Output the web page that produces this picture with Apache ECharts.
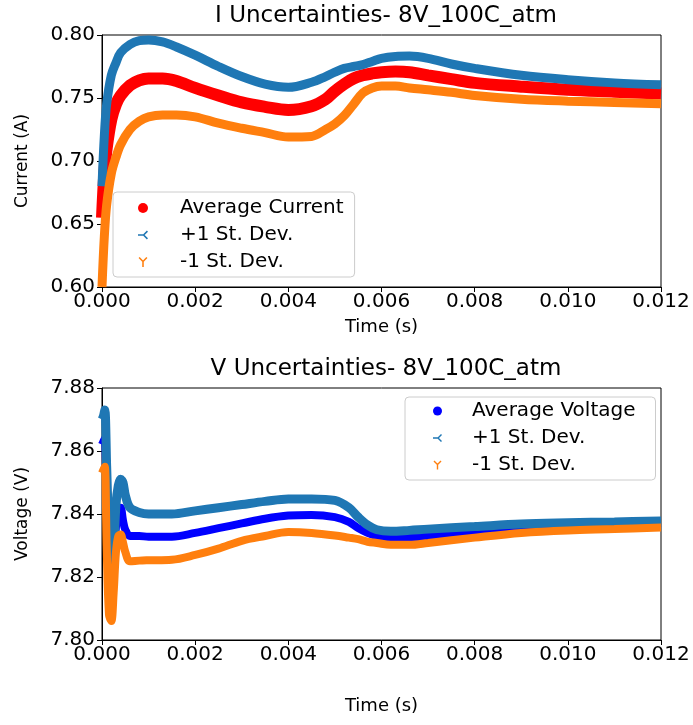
<!DOCTYPE html>
<html>
<head>
<meta charset="utf-8">
<script src="https://cdn.jsdelivr.net/npm/echarts@6/dist/echarts.min.js"></script>
<style>
  html, body { margin: 0; padding: 0; background: #fff; }
  #graphContainer { width: 693px; height: 725px; }
</style>
</head>
<body>
<div id="graphContainer"></div>
<script>
// time axis (s) for the current plot
var tCurrent = [0, 0.00005, 0.0001, 0.0002, 0.0003, 0.0004, 0.0006, 0.0008, 0.001, 0.0013, 0.0016, 0.002,
	0.0025, 0.003, 0.0035, 0.004, 0.0045, 0.0048, 0.005, 0.0052, 0.0054, 0.0056, 0.0058, 0.006, 0.0063,
	0.0066, 0.007, 0.0075, 0.008, 0.009, 0.010, 0.011, 0.012];
var currentAvg = [0.655, 0.690, 0.710, 0.733, 0.745, 0.752, 0.760, 0.764, 0.7655, 0.7655, 0.7635, 0.758,
	0.752, 0.7465, 0.743, 0.7405, 0.7435, 0.749, 0.7555, 0.761, 0.7655, 0.768, 0.7695, 0.7705, 0.771,
	0.7705, 0.768, 0.765, 0.762, 0.759, 0.7565, 0.755, 0.7535];
var currentPlus = [0.680, 0.720, 0.745, 0.768, 0.778, 0.786, 0.7925, 0.7955, 0.796, 0.7945, 0.7905, 0.784,
	0.775, 0.767, 0.761, 0.7585, 0.7625, 0.767, 0.7705, 0.7735, 0.775, 0.7765, 0.779, 0.7815, 0.783,
	0.7833, 0.7815, 0.777, 0.7735, 0.768, 0.7645, 0.762, 0.7605];
var currentMinus = [0.600, 0.640, 0.665, 0.690, 0.703, 0.713, 0.725, 0.7315, 0.735, 0.7365, 0.7365, 0.735,
	0.730, 0.726, 0.7225, 0.719, 0.7195, 0.725, 0.7295, 0.736, 0.745, 0.754, 0.758, 0.7595, 0.7595,
	0.758, 0.7565, 0.7545, 0.752, 0.749, 0.7475, 0.7465, 0.7455];

// time axis (s) for the voltage plot
var tVoltage = [0, 0.00003, 0.00006, 0.0001, 0.00015, 0.0002, 0.00025, 0.0003, 0.00035, 0.0004, 0.00045,
	0.0005, 0.0006, 0.0008, 0.001, 0.0015, 0.002, 0.0025, 0.003, 0.0035, 0.004, 0.0045, 0.005, 0.0053,
	0.0055, 0.0057, 0.0059, 0.0062, 0.0066, 0.007, 0.008, 0.009, 0.010, 0.011, 0.012];
var voltageAvg = [7.862, 7.863, 7.864, 7.845, 7.826, 7.818, 7.825, 7.836, 7.841, 7.842, 7.838,
	7.835, 7.833, 7.833, 7.8328, 7.8328, 7.834, 7.8355, 7.837, 7.8385, 7.8395, 7.8397, 7.839, 7.8375,
	7.8355, 7.834, 7.833, 7.8325, 7.8325, 7.833, 7.8343, 7.8355, 7.8362, 7.8367, 7.837];
var voltagePlus = [7.870, 7.871, 7.873, 7.855, 7.832, 7.820, 7.828, 7.843, 7.849, 7.851, 7.850,
	7.846, 7.842, 7.8405, 7.840, 7.840, 7.841, 7.842, 7.843, 7.844, 7.8448, 7.8448, 7.8443, 7.842,
	7.839, 7.8365, 7.835, 7.8345, 7.8348, 7.8352, 7.836, 7.8368, 7.8372, 7.8375, 7.8378];
var voltageMinus = [7.853, 7.854, 7.855, 7.830, 7.808, 7.806, 7.815, 7.828, 7.833, 7.8335, 7.831,
	7.828, 7.825, 7.8252, 7.8253, 7.8255, 7.827, 7.829, 7.8315, 7.833, 7.8343, 7.834, 7.8332, 7.8325,
	7.832, 7.8312, 7.8308, 7.8302, 7.8302, 7.8308, 7.8325, 7.834, 7.8348, 7.8352, 7.8357];

var xTicks = ['0.000', '0.002', '0.004', '0.006', '0.008', '0.010', '0.012'];

var red = '#ff0000';
var steel = '#1f77b4';
var orange = '#ff7f0e';
var blue = '#0000ff';
var font = 'DejaVu Sans';

var triLeft = 'path://M0,4.3 L5,4.3 L5,5.7 L0,5.7 Z M4.5,4.5 L8,1 L9,2 L5.5,5.5 Z M4.5,5.5 L5.5,4.5 L9,8 L8,9 Z';
var triDown = 'path://M4.3,5 L5.7,5 L5.7,10 L4.3,10 Z M4.5,5.5 L1,2 L2,1 L5.5,4.5 Z M5.5,5.5 L4.5,4.5 L8,1 L9,2 Z';

function pairs(xs, ys) {
	var out = [];
	for (var i = 0; i < xs.length; i++) out.push([xs[i], ys[i]]);
	return out;
}

function makeSeries(name, xs, ys, color, width, idx) {
	return {
		name: name,
		type: 'line',
		xAxisIndex: idx,
		yAxisIndex: idx,
		data: pairs(xs, ys),
		showSymbol: false,
		smooth: 0.35,
		lineStyle: { color: color, width: width },
		itemStyle: { color: color }
	};
}

function xAxisCfg(idx, gap) {
	return {
		type: 'value', gridIndex: idx, min: 0, max: 0.012, interval: 0.002,
		name: 'Time (s)', nameLocation: 'middle', nameGap: gap,
		nameTextStyle: { fontFamily: font, fontSize: 18, color: '#000' },
		axisLine: { lineStyle: { color: '#000', width: 1 } },
		axisTick: { length: 5, lineStyle: { color: '#000' } },
		axisLabel: {
			fontFamily: font, fontSize: 20, color: '#000', margin: 5,
			formatter: function (v) { return xTicks[Math.round(v / 0.002)]; }
		},
		splitLine: { show: false }
	};
}

function yAxisCfg(idx, name, min, max, step) {
	return {
		type: 'value', gridIndex: idx, min: min, max: max, interval: step,
		name: name, nameLocation: 'middle', nameGap: 71, nameRotate: 90,
		nameTextStyle: { fontFamily: font, fontSize: 17, color: '#000' },
		axisLine: { show: true, lineStyle: { color: '#000', width: 1 } },
		axisTick: { show: true, length: 5, lineStyle: { color: '#000' } },
		axisLabel: {
			fontFamily: font, fontSize: 20, color: '#000', margin: 7,
			formatter: function (v) { return v.toFixed(2); }
		},
		splitLine: { show: false }
	};
}

var dom = document.getElementById('graphContainer');
var myEChart = echarts.init(dom, null, { renderer: 'canvas' });

var option = {
	animation: false,
	backgroundColor: '#fff',
	title: [
		{ text: 'I Uncertainties- 8V_100C_atm', left: 381, top: 0, textAlign: 'center',
		  textStyle: { fontFamily: font, fontSize: 23, fontWeight: 'normal', color: '#000' } },
		{ text: 'V Uncertainties- 8V_100C_atm', left: 381, top: 353, textAlign: 'center',
		  textStyle: { fontFamily: font, fontSize: 23, fontWeight: 'normal', color: '#000' } }
	],
	grid: [
		{ left: 102, right: 32, top: 35, height: 252, show: true, borderColor: '#000', borderWidth: 1 },
		{ left: 102, right: 32, top: 388, height: 252, show: true, borderColor: '#000', borderWidth: 1 }
	],
	xAxis: [xAxisCfg(0, 31), xAxisCfg(1, 57)],
	yAxis: [
		yAxisCfg(0, 'Current (A)', 0.6, 0.8, 0.05),
		yAxisCfg(1, 'Voltage (V)', 7.80, 7.88, 0.02)
	],
	legend: [
		{
			orient: 'vertical', left: 113, top: 192,
			padding: [6, 11, 5, 25], itemGap: 7, itemWidth: 10, itemHeight: 10,
			backgroundColor: 'rgba(255,255,255,0.8)', borderColor: '#cccccc', borderWidth: 1, borderRadius: 4,
			textStyle: { fontFamily: font, fontSize: 20, color: '#000', lineHeight: 20, padding: [0, 0, 0, 27] },
			data: [
				{ name: 'Average Current', icon: 'circle' },
				{ name: '+1 St. Dev.', icon: triLeft },
				{ name: '-1 St. Dev.', icon: triDown }
			]
		},
		{
			orient: 'vertical', left: 405, top: 397,
			padding: [4, 20, 5, 28], itemGap: 7, itemWidth: 9, itemHeight: 9,
			backgroundColor: 'rgba(255,255,255,0.8)', borderColor: '#cccccc', borderWidth: 1, borderRadius: 4,
			textStyle: { fontFamily: font, fontSize: 20, color: '#000', lineHeight: 20, padding: [0, 0, 0, 25] },
			data: [
				{ name: 'Average Voltage', icon: 'circle' },
				{ name: '+1 St. Dev. ', icon: triLeft },
				{ name: '-1 St. Dev. ', icon: triDown }
			]
		}
	],
	series: [
		makeSeries('Average Current', tCurrent, currentAvg, red, 12, 0),
		makeSeries('+1 St. Dev.', tCurrent, currentPlus, steel, 9, 0),
		makeSeries('-1 St. Dev.', tCurrent, currentMinus, orange, 9, 0),
		makeSeries('Average Voltage', tVoltage, voltageAvg, blue, 8, 1),
		makeSeries('+1 St. Dev. ', tVoltage, voltagePlus, steel, 9, 1),
		makeSeries('-1 St. Dev. ', tVoltage, voltageMinus, orange, 8, 1)
	]
};

myEChart.setOption(option);
window.addEventListener('resize', myEChart.resize);
</script>
</body>
</html>
